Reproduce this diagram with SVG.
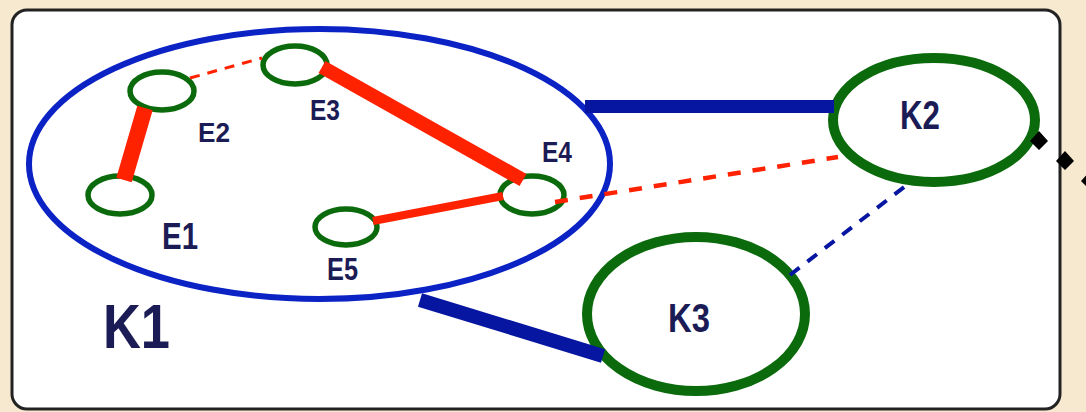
<svg xmlns="http://www.w3.org/2000/svg" width="1086" height="412" viewBox="0 0 1086 412">
<style>
.lbl{font-family:"Liberation Sans",Arial,sans-serif;font-weight:bold;fill:#1b1b55;text-anchor:start}
.e{fill:none;stroke:#0b6a0b;stroke-width:5.5}
.k{fill:none;stroke:#0b6a0b;stroke-width:10}
.red{stroke:#ff2200;fill:none}
.blue{stroke:#0716a0;fill:none}
</style>
<rect x="0" y="0" width="1086" height="412" fill="#f6e9cf"/>
<rect x="12" y="10" width="1048" height="399" rx="15" ry="15" fill="#ffffff" stroke="#222222" stroke-width="3"/>
<g id="K1">
<ellipse cx="319.5" cy="164" rx="290.5" ry="135" fill="none" stroke="#0b22c4" stroke-width="6"/>
<text class="lbl" x="103" y="348" font-size="63" textLength="67" lengthAdjust="spacingAndGlyphs">K1</text>
</g>
<g id="E1">
<ellipse class="e" cx="120" cy="195" rx="32" ry="19"/>
<text class="lbl" x="162" y="249" font-size="36" textLength="36" lengthAdjust="spacingAndGlyphs">E1</text>
</g>
<g id="E2">
<ellipse class="e" cx="162" cy="91" rx="32" ry="19"/>
<text class="lbl" x="198" y="142" font-size="28" textLength="32" lengthAdjust="spacingAndGlyphs">E2</text>
</g>
<g id="E3">
<ellipse class="e" cx="295" cy="65" rx="32" ry="19"/>
<text class="lbl" x="310" y="120" font-size="30" textLength="30" lengthAdjust="spacingAndGlyphs">E3</text>
</g>
<g id="E4">
<ellipse class="e" cx="532" cy="195" rx="32" ry="19"/>
<text class="lbl" x="542" y="162" font-size="30" textLength="30" lengthAdjust="spacingAndGlyphs">E4</text>
</g>
<g id="E5">
<ellipse class="e" cx="346" cy="227" rx="31" ry="18"/>
<text class="lbl" x="327" y="280" font-size="31" textLength="31" lengthAdjust="spacingAndGlyphs">E5</text>
</g>
<g id="K2">
<ellipse class="k" cx="934" cy="120" rx="101" ry="62"/>
<text class="lbl" x="900" y="129" font-size="40" textLength="40" lengthAdjust="spacingAndGlyphs">K2</text>
</g>
<g id="K3">
<ellipse class="k" cx="696" cy="314" rx="109" ry="77"/>
<text class="lbl" x="668" y="332" font-size="41" textLength="42" lengthAdjust="spacingAndGlyphs">K3</text>
</g>
<g id="connectors">
<line class="red" x1="124" y1="180" x2="145" y2="108" stroke-width="16"/>
<line class="red" x1="190" y1="78" x2="262" y2="58" stroke-width="3" stroke-dasharray="10 8"/>
<line class="red" x1="322" y1="67" x2="523" y2="180" stroke-width="14"/>
<line class="red" x1="373" y1="221" x2="503" y2="196" stroke-width="8"/>
<line class="red" x1="555" y1="202" x2="838" y2="157" stroke-width="4.5" stroke-dasharray="13 12"/>
<line class="blue" x1="585" y1="106.5" x2="834" y2="106.5" stroke-width="13"/>
<line class="blue" x1="420" y1="300" x2="603" y2="356" stroke-width="14"/>
<line class="blue" x1="790" y1="275" x2="912" y2="181" stroke-width="4" stroke-dasharray="12 10"/>
<path fill="#000000" d="M1039,131 L1048,141 L1039,150 L1030,141 Z M1065,151 L1074,161 L1065,170 L1056,161 Z M1090,171 L1099,181 L1090,190 L1081,181 Z"/>
</g>
</svg>
